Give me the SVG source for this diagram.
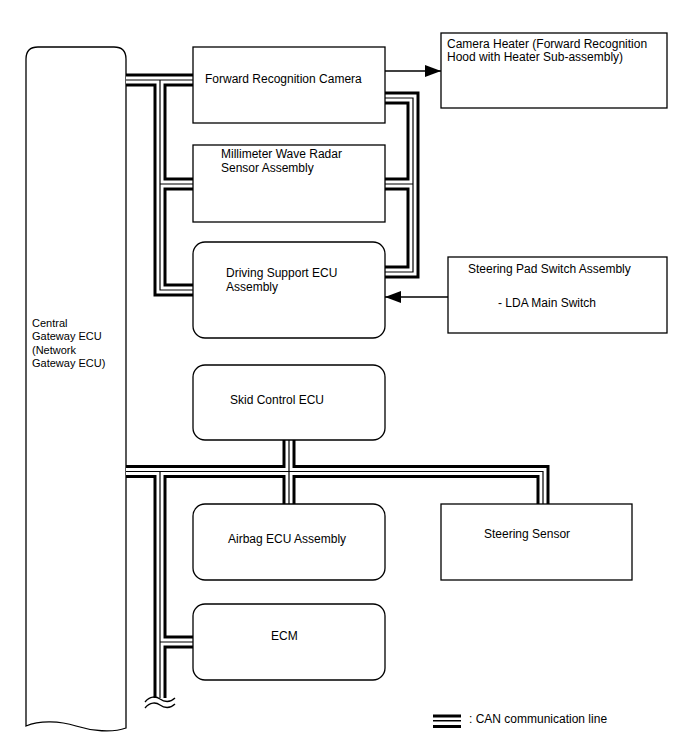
<svg xmlns="http://www.w3.org/2000/svg" xmlns:xlink="http://www.w3.org/1999/xlink" width="688" height="755" viewBox="0 0 688 755">
<style>
.box{fill:#fff;stroke:#000;stroke-width:1.3}
.t{font-family:"Liberation Sans",Arial,sans-serif;font-size:12px;fill:#000}
.tg{font-family:"Liberation Sans",Arial,sans-serif;font-size:11px;fill:#000}
.cb{fill:none;stroke:#000;stroke-width:13;stroke-linejoin:miter;stroke-linecap:butt}
.cw{fill:none;stroke:#fff;stroke-width:7;stroke-linejoin:miter;stroke-linecap:butt}
.cc{fill:none;stroke:#000;stroke-width:1.2;stroke-linejoin:miter;stroke-linecap:butt}
.arr{fill:none;stroke:#000;stroke-width:1.3}
.wave{fill:none;stroke:#000;stroke-width:1.3}
</style>
<defs>
<path id="bus" d="M126,80H193 M160,80V290H193 M160,184H193 M385,98H413V272H385 M385,184H413 M126,471.5H543V504 M289,440V504 M160,471.5V698 M160,642H193"/>
<marker id="ah" markerWidth="16" markerHeight="12" refX="16" refY="6" orient="auto" markerUnits="userSpaceOnUse">
<path d="M0,0L16,6L0,12Z" fill="#000"/>
</marker>
</defs>
<rect width="688" height="755" fill="#fff"/>
<g id="gateway">
<path class="box" d="M26,726V59Q26,47 38,47H114Q126,47 126,59V728C112,733 92,731 76,726C60,721 40,720 26,726Z"/>
<text class="tg" x="32" y="327">Central</text>
<text class="tg" x="32" y="340">Gateway ECU</text>
<text class="tg" x="32" y="353.5">(Network</text>
<text class="tg" x="32" y="367">Gateway ECU)</text>
</g>
<g id="connectors">
<use xlink:href="#bus" class="cb"/>
<use xlink:href="#bus" class="cw"/>
<use xlink:href="#bus" class="cc"/>
<path class="wave" d="M145,702C150,696 156,696 160,699C164,702 170,703 175,698"/>
<path class="wave" d="M145,708C150,702 156,702 160,705C164,708 170,709 175,704"/>
<line class="arr" x1="385" y1="71" x2="441" y2="71" marker-end="url(#ah)"/>
<line class="arr" x1="448" y1="297" x2="385" y2="297" marker-end="url(#ah)"/>
</g>
<g id="camera">
<rect class="box" x="193" y="47" width="192" height="76"/>
<text class="t" x="205" y="83">Forward Recognition Camera</text>
</g>
<g id="heater">
<rect class="box" x="441" y="33" width="226" height="75"/>
<text class="t" x="447" y="48">Camera Heater (Forward Recognition</text>
<text class="t" x="447" y="61">Hood with Heater Sub-assembly)</text>
</g>
<g id="radar">
<rect class="box" x="193" y="145" width="192" height="77"/>
<text class="t" x="221" y="158">Millimeter Wave Radar</text>
<text class="t" x="221" y="172">Sensor Assembly</text>
</g>
<g id="driving-support">
<rect class="box" x="193" y="242" width="192" height="96" rx="12"/>
<text class="t" x="226" y="277">Driving Support ECU</text>
<text class="t" x="226" y="291">Assembly</text>
</g>
<g id="steering-pad">
<rect class="box" x="448" y="257" width="219" height="76"/>
<text class="t" x="468" y="272.5">Steering Pad Switch Assembly</text>
<text class="t" x="498" y="307">- LDA Main Switch</text>
</g>
<g id="skid">
<rect class="box" x="193" y="365" width="192" height="75" rx="12"/>
<text class="t" x="230" y="404">Skid Control ECU</text>
</g>
<g id="airbag">
<rect class="box" x="193" y="504" width="192" height="76" rx="12"/>
<text class="t" x="228" y="543">Airbag ECU Assembly</text>
</g>
<g id="steering-sensor">
<rect class="box" x="441" y="504" width="191" height="76"/>
<text class="t" x="484" y="538">Steering Sensor</text>
</g>
<g id="ecm">
<rect class="box" x="193" y="604" width="192" height="76" rx="12"/>
<text class="t" x="271" y="640">ECM</text>
</g>
<g id="legend">
<rect x="433" y="714.5" width="28" height="3" fill="#000"/>
<rect x="433" y="720" width="28" height="1.5" fill="#000"/>
<rect x="433" y="725" width="28" height="3" fill="#000"/>
<text class="t" x="469" y="722.5">: CAN communication line</text>
</g>
</svg>
